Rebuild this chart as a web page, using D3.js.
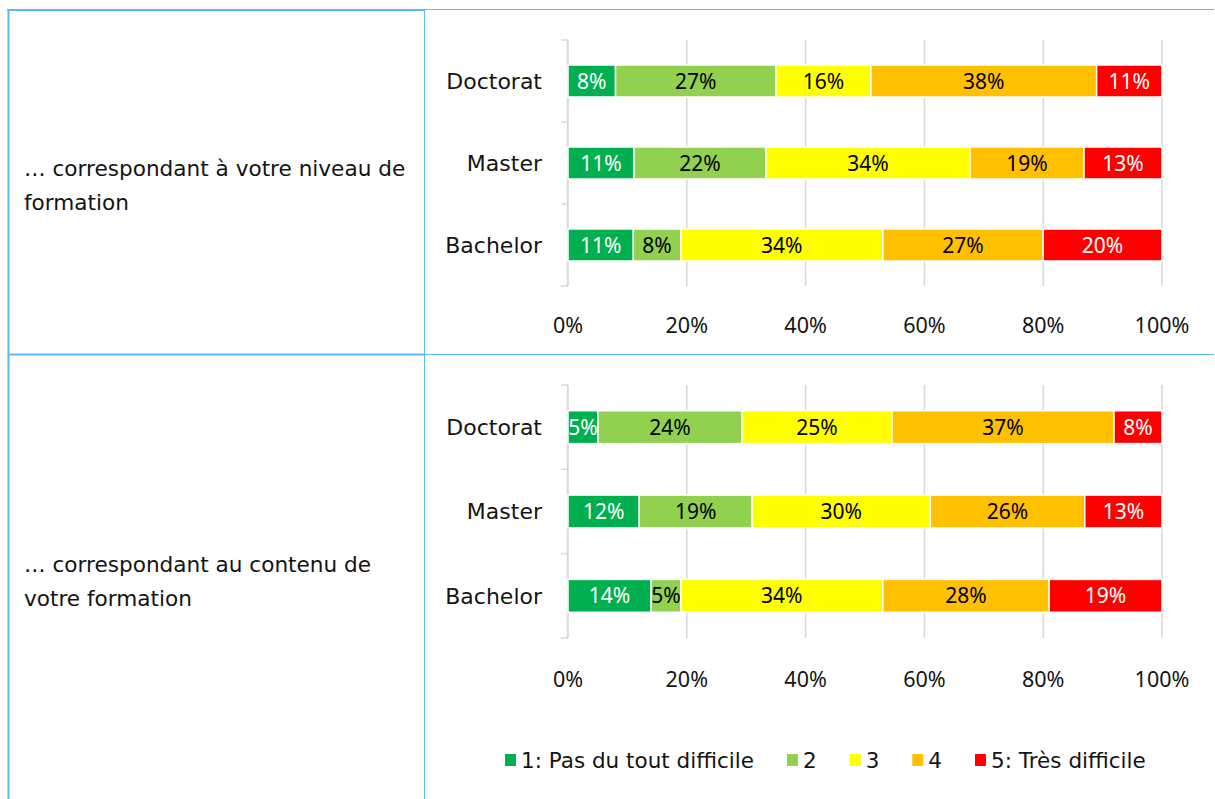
<!DOCTYPE html>
<html>
<head>
<meta charset="utf-8">
<script src="https://cdn.jsdelivr.net/npm/d3@7"></script>
<style>
  html, body { margin: 0; padding: 0; background: #ffffff; }
  svg { display: block; }
  text { font-family: "DejaVu Sans", "Noto Sans", sans-serif; }
  text.num { font-family: "Noto Sans", "DejaVu Sans", sans-serif; }
</style>
</head>
<body>
<svg id="chart" width="1215" height="799"></svg>
<script>
// Education levels (rows of each bar chart, top to bottom)
const levels = ["Doctorat", "Master", "Bachelor"];

// Difficulty rating scale (stack order, left to right)
const ratings = ["1: Pas du tout difficile", "2", "3", "4", "5: Très difficile"];
const ratingColors = ["#00B050", "#92D050", "#FFFF00", "#FFC000", "#FF0000"];
const labelColors = ["#ffffff", "#000000", "#000000", "#000000", "#ffffff"];

// Share of answers (%) per level, in rating order — "… niveau de formation"
const niveauDoctorat = [8, 27, 16, 38, 11];
const niveauMaster   = [11, 22, 34, 19, 13];
const niveauBachelor = [11, 8, 34, 27, 20];

// Share of answers (%) per level, in rating order — "… contenu de votre formation"
const contenuDoctorat = [5, 24, 25, 37, 8];
const contenuMaster   = [12, 19, 30, 26, 13];
const contenuBachelor = [14, 5, 34, 28, 19];

// Axis ticks
const xTicks = [0, 0.2, 0.4, 0.6, 0.8, 1.0];
const xTickLabels = ["0%", "20%", "40%", "60%", "80%", "100%"];

// Row titles in the left column
const rowTitles = [
  ["… correspondant à votre niveau de", "formation"],
  ["… correspondant au contenu de", "votre formation"]
];

const TEXT_COLOR = "#141414";
const svg = d3.select("#chart");
const W = 1215, H = 799;

svg.append("rect").attr("width", W).attr("height", H).attr("fill", "#ffffff");

// ---- table frame ----
const frameColor = "#5DB9F5";
const frame = svg.append("g");
const leftX = 8.5, divX = 424.5, rightX = 1214, topY = 10, midY = 354.5;
// top border
frame.append("line").attr("x1", leftX - 1).attr("x2", divX).attr("y1", topY).attr("y2", topY)
  .attr("stroke", frameColor).attr("stroke-width", 2);
frame.append("line").attr("x1", divX).attr("x2", rightX).attr("y1", topY - 0.5).attr("y2", topY - 0.5)
  .attr("stroke", frameColor).attr("stroke-width", 1);
// middle separator
frame.append("line").attr("x1", leftX - 1).attr("x2", divX).attr("y1", midY).attr("y2", midY)
  .attr("stroke", frameColor).attr("stroke-width", 2);
frame.append("line").attr("x1", divX).attr("x2", rightX).attr("y1", midY).attr("y2", midY)
  .attr("stroke", frameColor).attr("stroke-width", 1);
// vertical borders
frame.append("line").attr("x1", leftX).attr("x2", leftX).attr("y1", topY - 1).attr("y2", H)
  .attr("stroke", frameColor).attr("stroke-width", 2);
frame.append("line").attr("x1", divX).attr("x2", divX).attr("y1", topY - 1).attr("y2", H)
  .attr("stroke", frameColor).attr("stroke-width", 1);

// ---- row titles ----
const titleY = [186, 582];
rowTitles.forEach((lines, i) => {
  const t = svg.append("text")
    .attr("x", 24)
    .attr("y", titleY[i])
    .attr("font-size", 21.6)
    .attr("fill", TEXT_COLOR);
  lines.forEach((ln, j) => {
    t.append("tspan").attr("x", 24)
      .attr("dy", j === 0 ? -10 : 34)
      .text(ln);
  });
});

// ---- shared horizontal scale ----
const x = d3.scaleLinear().domain([0, 1]).range([568, 1162]);

function drawPanel(rows, top, bottom, tickLabelY) {
  const g = svg.append("g");
  const y = d3.scaleBand().domain(levels).range([top, bottom])
    .paddingInner(0.61).paddingOuter(0.305);

  // one record per level, keyed by rating
  const table = levels.map((lv, i) => {
    const rec = { level: lv };
    ratings.forEach((r, k) => { rec[r] = rows[i][k]; });
    return rec;
  });
  // 100 % stacked: each row is normalised to its own total
  const stacked = d3.stack().keys(ratings).offset(d3.stackOffsetExpand)(table);

  // vertical gridlines
  g.append("g").selectAll("line").data(xTicks).join("line")
    .attr("x1", d => x(d)).attr("x2", d => x(d))
    .attr("y1", top).attr("y2", bottom)
    .attr("stroke", "#d9d9d9").attr("stroke-width", 1.5);

  // category axis with tick marks on band boundaries
  const step = y.step();
  const bounds = d3.range(levels.length + 1).map(i => top + i * step);
  g.append("line").attr("x1", x(0) - 0.5).attr("x2", x(0) - 0.5)
    .attr("y1", top).attr("y2", bottom)
    .attr("stroke", "#d9d9d9").attr("stroke-width", 1.5);
  g.append("g").selectAll("line").data(bounds).join("line")
    .attr("x1", x(0) - 7).attr("x2", x(0))
    .attr("y1", d => d).attr("y2", d => d)
    .attr("stroke", "#d9d9d9").attr("stroke-width", 1.5);

  // category labels
  g.append("g").selectAll("text").data(levels).join("text")
    .attr("x", x(0) - 26)
    .attr("y", d => y(d) + y.bandwidth() / 2)
    .attr("dy", "0.35em")
    .attr("text-anchor", "end")
    .attr("font-size", 22)
    .attr("fill", TEXT_COLOR)
    .text(d => d);

  // stacked segments
  const layers = g.append("g").selectAll("g").data(stacked).join("g")
    .attr("fill", (d, k) => ratingColors[k]);
  layers.selectAll("rect").data(d => d).join("rect")
    .attr("x", d => x(d[0]))
    .attr("width", d => x(d[1]) - x(d[0]))
    .attr("y", d => y(d.data.level))
    .attr("height", y.bandwidth())
    .attr("stroke", "#ffffff").attr("stroke-width", 1.5);

  // value labels
  const labelLayers = g.append("g").selectAll("g").data(stacked).join("g")
    .attr("fill", (d, k) => labelColors[k]);
  labelLayers.each(function (layer) {
    d3.select(this).selectAll("text").data(layer).join("text")
      .attr("class", "num")
      .attr("x", d => (x(d[0]) + x(d[1])) / 2)
      .attr("y", d => y(d.data.level) + y.bandwidth() / 2)
      .attr("dy", "0.36em")
      .attr("text-anchor", "middle")
      .attr("font-size", 21)
      .text(d => d.data[layer.key] + "%");
  });

  // percentage axis labels
  g.append("g").selectAll("text").data(xTicks).join("text")
    .attr("class", "num")
    .attr("x", d => x(d))
    .attr("y", tickLabelY)
    .attr("dy", "0.35em")
    .attr("text-anchor", "middle")
    .attr("font-size", 21.5)
    .attr("fill", TEXT_COLOR)
    .text((d, i) => xTickLabels[i]);
}

drawPanel([niveauDoctorat, niveauMaster, niveauBachelor], 40, 286, 325);
drawPanel([contenuDoctorat, contenuMaster, contenuBachelor], 385, 638, 679);

// ---- legend ----
const legend = svg.append("g");
let lx = 505;
const ly = 760;
ratings.forEach((r, k) => {
  legend.append("rect")
    .attr("x", lx).attr("y", ly - 6)
    .attr("width", 11).attr("height", 12)
    .attr("fill", ratingColors[k]);
  const t = legend.append("text")
    .attr("x", lx + 16).attr("y", ly)
    .attr("dy", "0.35em")
    .attr("font-size", 21.5)
    .attr("fill", TEXT_COLOR)
    .text(r);
  lx += 16 + t.node().getComputedTextLength() + 33;
});
</script>
</body>
</html>
